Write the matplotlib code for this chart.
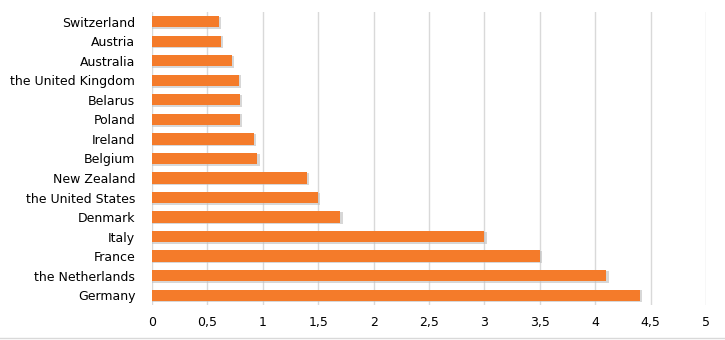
import matplotlib.pyplot as plt
from matplotlib.lines import Line2D

countries = ["Germany", "the Netherlands", "France", "Italy", "Denmark",
             "the United States", "New Zealand", "Belgium", "Ireland",
             "Poland", "Belarus", "the United Kingdom", "Australia",
             "Austria", "Switzerland"]
values = [4.4, 4.1, 3.5, 3.0, 1.7, 1.5, 1.4, 0.95, 0.92,
          0.79, 0.79, 0.785, 0.72, 0.62, 0.60]
ticks = [0, 0.5, 1, 1.5, 2, 2.5, 3, 3.5, 4, 4.5, 5]
tick_labels = ["0", "0,5", "1", "1,5", "2", "2,5", "3", "3,5", "4", "4,5", "5"]

plt.rcParams["font.family"] = ["DejaVu Sans"]

fig = plt.figure(figsize=(7.25, 3.4), dpi=100)
ax = fig.add_axes([0.2097, 0.103, 0.7641, 0.862])

pos = list(range(len(countries)))

# soft shadow under each bar
ax.barh([p - 0.06 for p in pos], [v + 0.02 for v in values], height=0.62,
        color="#bdbdbd", alpha=0.6, zorder=2)
ax.barh(pos, values, height=0.58, color="#F47B2A", zorder=3)

ax.set_xlim(0, 5)
ax.set_ylim(-0.5, len(countries) - 0.5)
ax.set_xticks(ticks)
ax.set_xticklabels(tick_labels, fontsize=9)
ax.set_yticks(pos)
ax.set_yticklabels(countries, fontsize=9)
ax.tick_params(length=0, pad=8)
ax.tick_params(axis="y", pad=12)

ax.grid(axis="x", color="#d9d9d9", linewidth=1, zorder=0)
for s in ax.spines.values():
    s.set_visible(False)

# outer frame line along the bottom
fig.add_artist(Line2D([0, 1], [0.006, 0.006], color="#d9d9d9", linewidth=1,
                      transform=fig.transFigure))

fig.savefig("out.png", dpi=100)
